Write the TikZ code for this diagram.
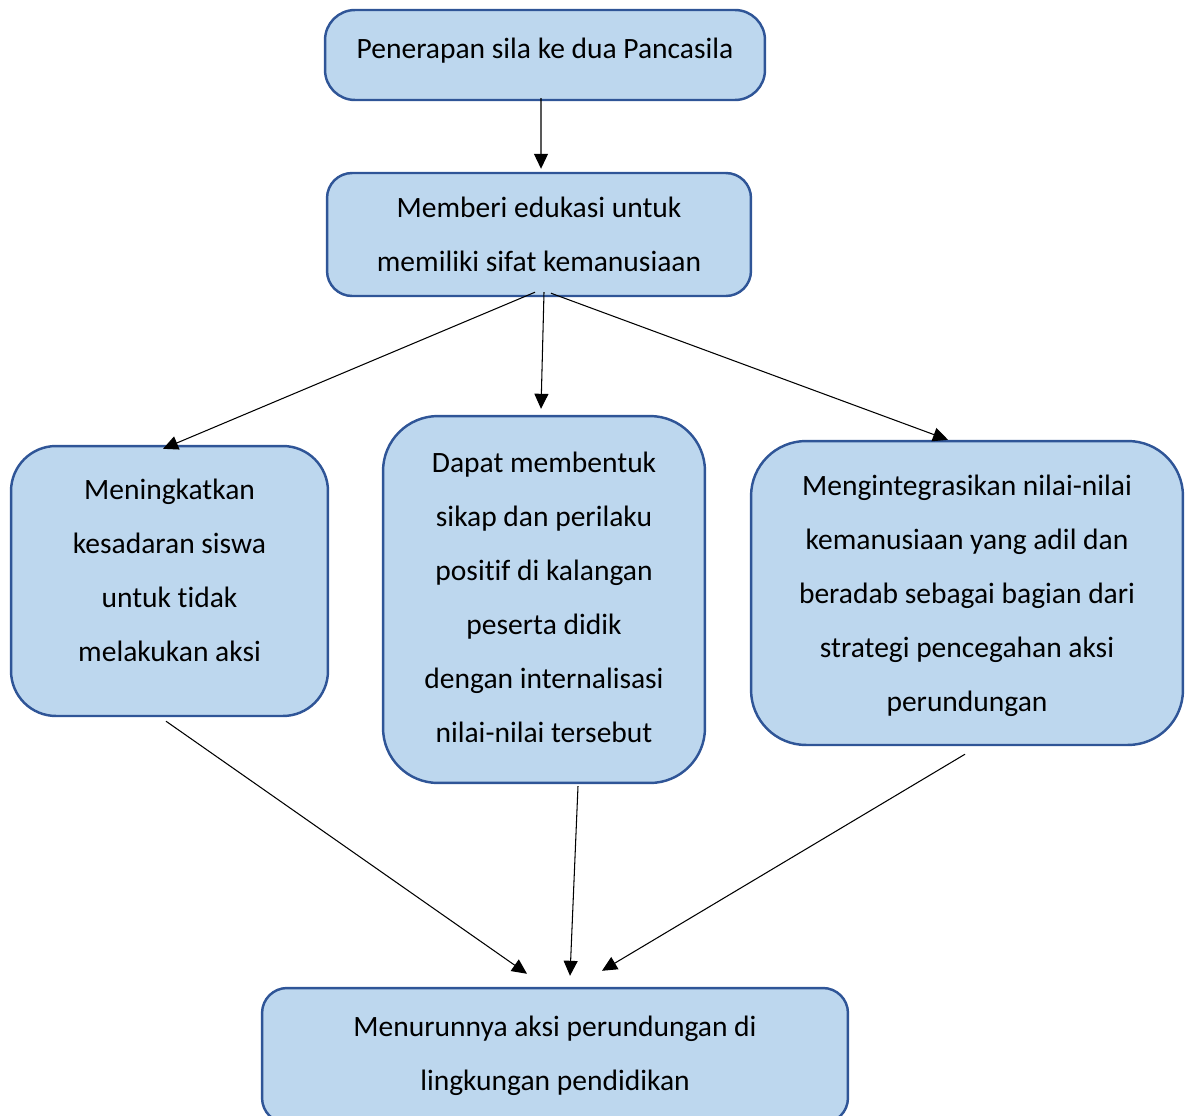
\documentclass[tikz,border=0pt]{standalone}
\usepackage{fontspec}
\setmainfont[Ligatures=CommonOff]{Carlito}
\usepackage{tikz}
\usetikzlibrary{arrows.meta}
\definecolor{boxfill}{HTML}{BDD7EE}
\definecolor{boxline}{HTML}{2F5597}

\begin{document}
\begin{tikzpicture}[x=0.02cm, y=-0.02cm,
  roundbox/.style={rectangle, rounded corners=#1, draw=boxline, fill=boxfill, line width=1.4pt, align=center, font=\fontsize{16.8}{30.7}\selectfont, inner sep=0pt},
  arr/.style={line width=0.6pt, -{Triangle[length=0.3cm,width=0.28cm]}}]
\useasboundingbox (0,0) rectangle (1189,1115);
\clip (0,0) rectangle (1189,1115);
\node[roundbox=0.6cm, minimum width=8.8cm, minimum height=1.8cm, text depth=0.28cm] at (545,55) (penerapan) {Penerapan sila ke dua Pancasila};
\node[roundbox=0.5cm, minimum width=8.48cm, minimum height=2.46cm] at (539,234.5) (edukasi) {Memberi edukasi untuk\\memiliki sifat kemanusiaan};
\node[roundbox=0.9cm, minimum width=6.34cm, minimum height=5.4cm, text depth=0.44cm] at (169.5,581) (sadar) {Meningkatkan\\kesadaran siswa\\untuk tidak\\melakukan aksi};
\node[roundbox=1.1cm, minimum width=6.44cm, minimum height=7.34cm, text depth=0.08cm] at (544,599.5) (bentuk) {Dapat membentuk\\sikap dan perilaku\\positif di kalangan\\peserta didik\\dengan internalisasi\\nilai-nilai tersebut};
\node[roundbox=1.1cm, minimum width=8.64cm, minimum height=6.08cm, text depth=0cm] at (967,593) (integrasi) {Mengintegrasikan nilai-nilai\\kemanusiaan yang adil dan\\beradab sebagai bagian dari\\strategi pencegahan aksi\\perundungan};
\node[roundbox=0.5cm, minimum width=11.72cm, minimum height=2.7cm] at (555,1055.5) (turun) {Menurunnya aksi perundungan di\\lingkungan pendidikan};
\draw[arr] ([xshift=-0.08cm,yshift=0.06cm]penerapan.south) -- ([xshift=0.04cm,yshift=0.06cm]edukasi.north);
\draw[arr] ([xshift=-0.08cm,yshift=0.1cm]edukasi.south) -- ([xshift=-0.13cm,yshift=-0.08cm]sadar.north);
\draw[arr] ([xshift=0.1cm,yshift=0.1cm]edukasi.south) -- ([xshift=-0.06cm,yshift=0.12cm]bentuk.north);
\draw[arr] ([xshift=0.24cm,yshift=0.08cm]edukasi.south) -- ([xshift=-0.38cm]integrasi.north);
\draw[arr] ([xshift=-0.07cm,yshift=-0.08cm]sadar.south) -- ([xshift=-0.56cm,yshift=0.26cm]turun.north);
\draw[arr] ([xshift=0.68cm,yshift=-0.04cm]bentuk.south) -- ([xshift=0.3cm,yshift=0.22cm]turun.north);
\draw[arr] ([xshift=-0.04cm,yshift=-0.16cm]integrasi.south) -- ([xshift=0.94cm,yshift=0.32cm]turun.north);
\end{tikzpicture}
\end{document}
